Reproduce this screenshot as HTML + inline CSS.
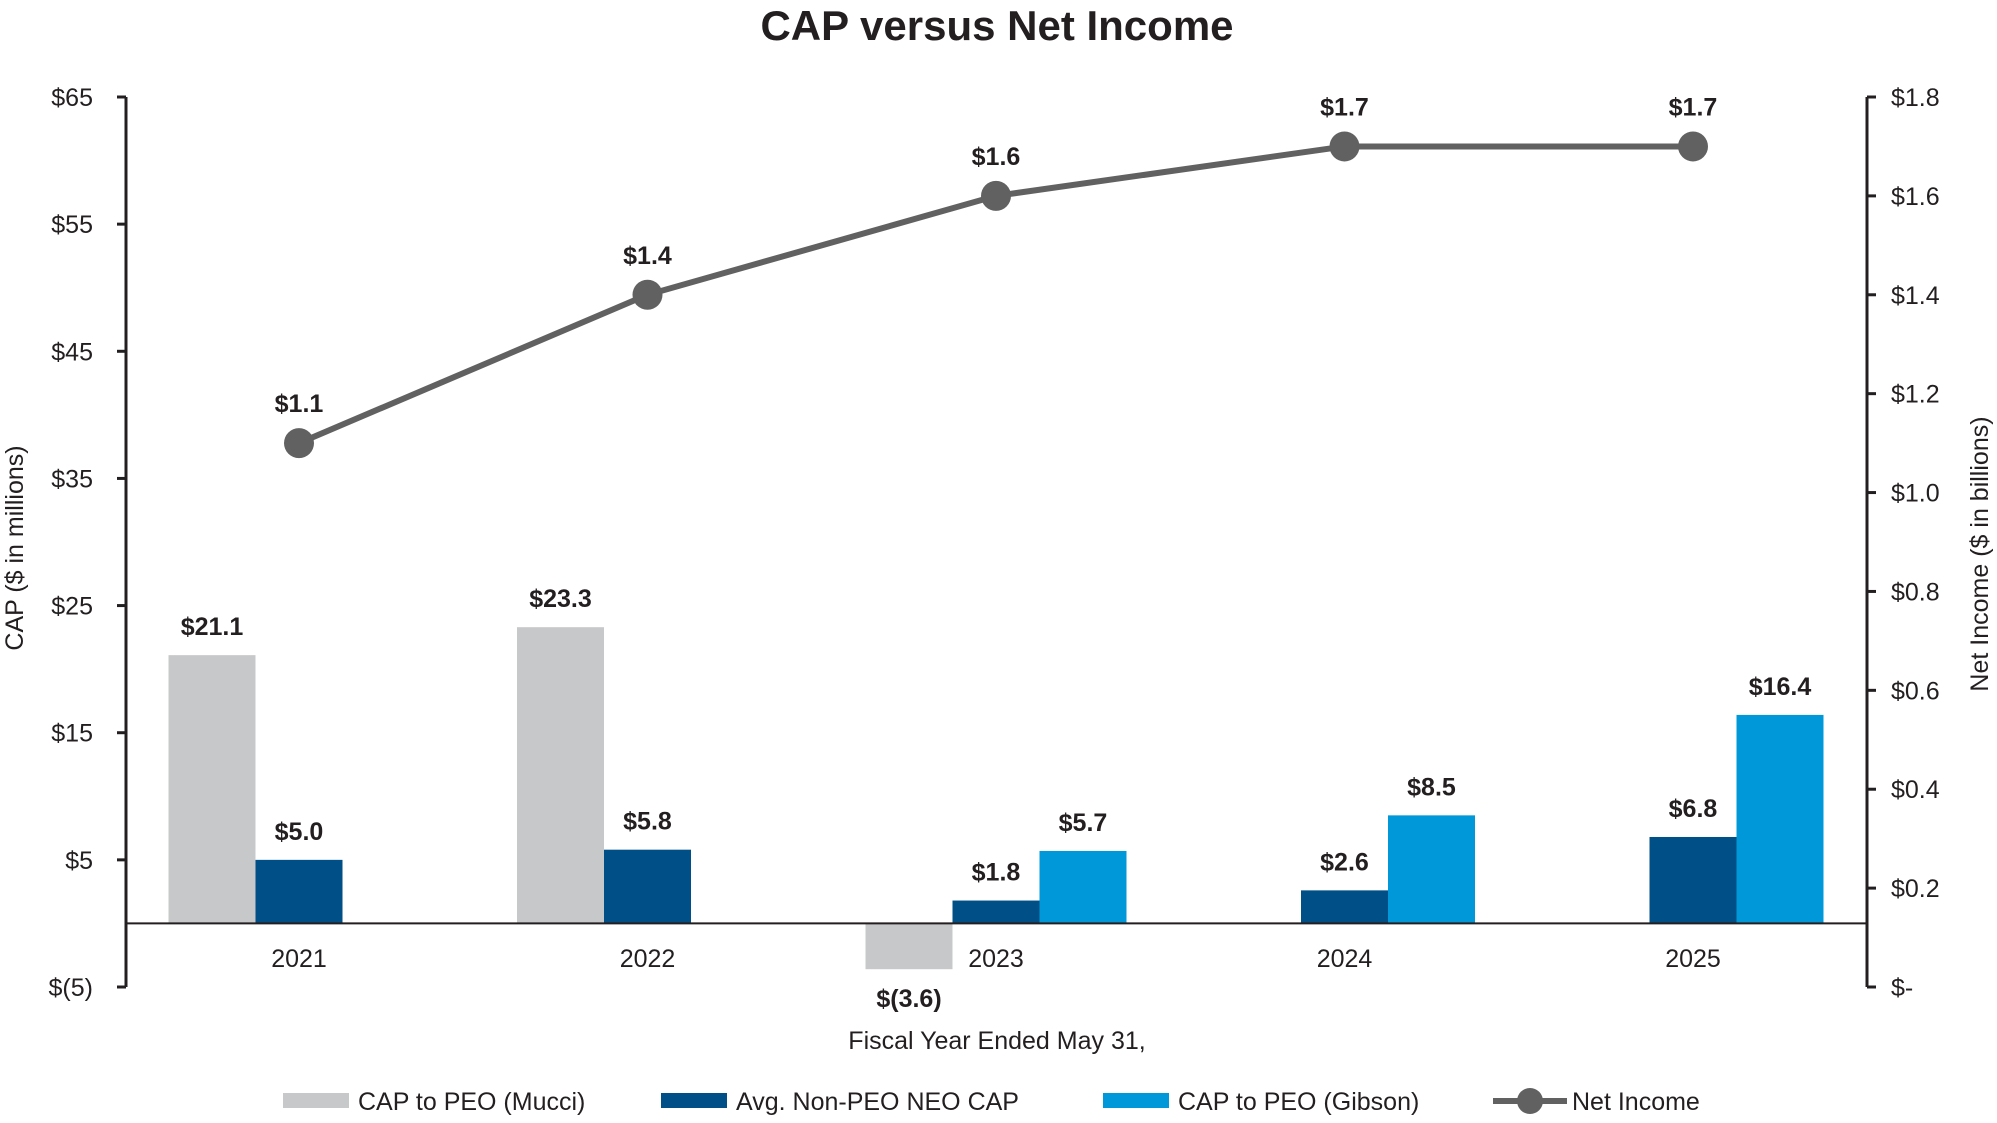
<!DOCTYPE html>
<html><head><meta charset="utf-8"><style>
body{margin:0;background:#fff;}
svg text{font-family:"Liberation Sans",sans-serif;}
</style></head><body>
<svg id="c" width="1997" height="1118" xmlns="http://www.w3.org/2000/svg">
<text x="997" y="40" text-anchor="middle" font-size="42" font-weight="bold" fill="#231f20">CAP versus Net Income</text>
</svg>
<script>
const categories=["2021","2022","2023","2024","2025"];
const mucci=[21.1,23.3,-3.6,null,null];
const nonPeo=[5.0,5.8,1.8,2.6,6.8];
const gibson=[null,null,5.7,8.5,16.4];
const netIncome=[1.1,1.4,1.6,1.7,1.7];
const leftTicks=[65,55,45,35,25,15,5,-5];
const leftTickLabels=["$65","$55","$45","$35","$25","$15","$5","$(5)"];
const rightTicks=[1.8,1.6,1.4,1.2,1.0,0.8,0.6,0.4,0.2,0];
const rightTickLabels=["$1.8","$1.6","$1.4","$1.2","$1.0","$0.8","$0.6","$0.4","$0.2","$-"];

const svg=document.getElementById('c');
const NS="http://www.w3.org/2000/svg";
const L=126,R=1867,T=97,B=987;
const yL=v=>B-(v+5)/70*(B-T);
const yR=v=>B-v/1.8*(B-T);
const xC=i=>299+i*348.5;
const bw=87;
function el(tag,attrs,txt){const e=document.createElementNS(NS,tag);for(const k in attrs)e.setAttribute(k,attrs[k]);if(txt!=null)e.textContent=txt;svg.appendChild(e);return e;}
const fmt=v=>v<0?"$("+Math.abs(v).toFixed(1)+")":"$"+v.toFixed(1);

let a=el('line',{x1:L,y1:T,x2:L,y2:B,stroke:'#231f20','stroke-width':3});


a=el('line',{x1:R,y1:T,x2:R,y2:B,stroke:'#231f20','stroke-width':3});


leftTicks.forEach((v,i)=>{
  const t=el('line',{x1:L-9,x2:L,y1:yL(v),y2:yL(v),stroke:'#231f20','stroke-width':3});
  
  
  const tx=el('text',{x:93,y:yL(v)+9,'text-anchor':'end','font-size':25,fill:'#231f20'},leftTickLabels[i]);
  
  
});
rightTicks.forEach((v,i)=>{
  const t=el('line',{x1:R,x2:R+9,y1:yR(v),y2:yR(v),stroke:'#231f20','stroke-width':3});
  
  
  const tx=el('text',{x:1891,y:yR(v)+9,'font-size':25,fill:'#231f20'},rightTickLabels[i]);
  
  
});
let t=el('text',{x:0,y:0,transform:`translate(23,548) rotate(-90)`,'text-anchor':'middle','font-size':25,fill:'#231f20'},'CAP ($ in millions)');


t=el('text',{x:0,y:0,transform:`translate(1988,554) rotate(-90)`,'text-anchor':'middle','font-size':25,fill:'#231f20'},'Net Income ($ in billions)');


t=el('text',{x:997,y:1049,'text-anchor':'middle','font-size':25,fill:'#231f20'},'Fiscal Year Ended May 31,');



const series=[[mucci,'#c7c8ca','mucci'],[nonPeo,'#004f86','non-peo'],[gibson,'#0098d8','gibson']];
categories.forEach((c,i)=>{
  series.forEach(([arr,col,nm],s)=>{
    const v=arr[i]; if(v==null)return;
    const x=xC(i)+(s-1)*bw-bw/2;
    const y0=yL(0),y1=yL(v);
    const r=el('rect',{x:x,y:Math.min(y0,y1),width:bw,height:Math.abs(y1-y0),fill:col});
    
    
    const ly=v<0?y1+38:y1-20;
    const lb=el('text',{x:x+bw/2,y:ly,'text-anchor':'middle','font-size':25,'font-weight':'bold',fill:'#231f20'},fmt(v));
    
    
  });
  const cl=el('text',{x:xC(i),y:967,'text-anchor':'middle','font-size':25,fill:'#231f20'},c);
  
  
});
const zl=el('line',{x1:L,x2:R,y1:yL(0),y2:yL(0),stroke:'#231f20','stroke-width':2});



const pl=el('polyline',{points:netIncome.map((v,i)=>xC(i)+','+yR(v)).join(' '),fill:'none',stroke:'#616161','stroke-width':6});


netIncome.forEach((v,i)=>{
  const p=el('circle',{cx:xC(i),cy:yR(v),r:15,fill:'#616161'});
  
  
  const lb=el('text',{x:xC(i),y:yR(v)-31,'text-anchor':'middle','font-size':25,'font-weight':'bold',fill:'#231f20'},fmt(v));
  
  
});

const leg=[[283,'#c7c8ca','CAP to PEO (Mucci)','legend-mucci'],[661,'#004f86','Avg. Non-PEO NEO CAP','legend-non-peo'],[1103,'#0098d8','CAP to PEO (Gibson)','legend-gibson']];
leg.forEach(([x,col,txt,nm])=>{
  const r=el('rect',{x:x,y:1093,width:66,height:15,fill:col});
  
  
  const tx=el('text',{x:x+75,y:1110,'font-size':25,fill:'#231f20'},txt);
  
  
});
let ll=el('line',{x1:1493,x2:1567,y1:1101,y2:1101,stroke:'#616161','stroke-width':6});


ll=el('circle',{cx:1530,cy:1101,r:13,fill:'#616161'});


ll=el('text',{x:1572,y:1110,'font-size':25,fill:'#231f20'},'Net Income');


</script>
</body></html>
